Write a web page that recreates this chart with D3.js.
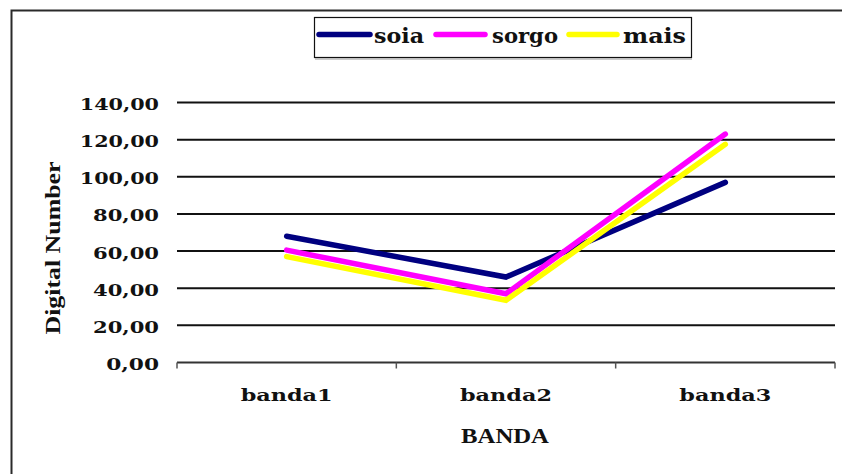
<!DOCTYPE html>
<html>
<head>
<meta charset="utf-8">
<script src="https://cdn.jsdelivr.net/npm/d3@7"></script>
<style>
  html, body { margin: 0; padding: 0; background: #fff; }
  svg { display: block; }
</style>
</head>
<body>
<svg id="chart" width="842" height="474"></svg>
<script>
// Band categories and the digital number of each crop per band
const categories = ["banda1", "banda2", "banda3"];
const soia  = [68, 46, 97];
const sorgo = [60.5, 37, 123];
const mais  = [57, 33.5, 117.5];
const seriesNames  = ["soia", "sorgo", "mais"];
const seriesColors = ["#000080", "#ff00ff", "#ffff00"];
const yTicks = [0, 20, 40, 60, 80, 100, 120, 140];

const series = [soia, sorgo, mais].map((values, i) => ({
  name: seriesNames[i], color: seriesColors[i], values
}));

const svg = d3.select("#chart");
const plot = { left: 177, right: 835, top: 102.5, bottom: 362.5 };

const x = d3.scalePoint().domain(categories).range([plot.left, plot.right]).padding(0.5);
const y = d3.scaleLinear().domain([0, 140]).range([plot.bottom, plot.top]);

const fmt = v => d3.format(".2f")(v).replace(".", ",");

// Outer frame (runs off the right and bottom edges)
svg.append("path")
  .attr("d", `M11.5,${480} V10.5 H${850}`)
  .attr("fill", "none").attr("stroke", "#2a2a2a").attr("stroke-width", 2);

// Horizontal gridlines
svg.append("g").selectAll("line")
  .data(yTicks.filter(t => t > 0))
  .join("line")
  .attr("x1", plot.left).attr("x2", plot.right)
  .attr("y1", d => y(d)).attr("y2", d => y(d))
  .attr("stroke", "#111").attr("stroke-width", 2);

// Y tick labels
svg.append("g").selectAll("text")
  .data(yTicks)
  .join("text")
  .attr("x", 159).attr("y", d => y(d) + 2)
  .attr("text-anchor", "end").attr("dominant-baseline", "central")
  .attr("font-family", "DejaVu Serif").attr("font-weight", "bold").attr("font-size", 16)
  .attr("textLength", d => fmt(d).length * 13.2)
  .attr("lengthAdjust", "spacingAndGlyphs")
  .attr("fill", "#111")
  .text(fmt);

// X axis with category ticks at the band boundaries
const step = x.step();
const xAxis = d3.axisBottom(x).tickSize(0).tickFormat("");
const gx = svg.append("g").attr("transform", `translate(0,${plot.bottom})`).call(xAxis);
gx.select(".domain").attr("stroke", "#333").attr("stroke-width", 2)
  .attr("d", `M${plot.left},0H${plot.right}`);
const bounds = [plot.left].concat(categories.map(c => x(c) + step / 2));
gx.selectAll(".bound").data(bounds).join("line").attr("class", "bound")
  .attr("x1", d => d).attr("x2", d => d).attr("y1", 0).attr("y2", 6)
  .attr("stroke", "#555").attr("stroke-width", 1.5);

// Category labels
svg.append("g").selectAll("text")
  .data(categories)
  .join("text")
  .attr("x", d => x(d)).attr("y", 401)
  .attr("text-anchor", "middle")
  .attr("font-family", "DejaVu Serif").attr("font-weight", "bold").attr("font-size", 17)
  .attr("textLength", 92).attr("lengthAdjust", "spacingAndGlyphs")
  .attr("fill", "#111")
  .text(d => d);

// Axis titles
svg.append("text")
  .attr("x", 505).attr("y", 443).attr("text-anchor", "middle")
  .attr("font-family", "Liberation Serif").attr("font-weight", "bold").attr("font-size", 21)
  .attr("textLength", 88).attr("lengthAdjust", "spacingAndGlyphs")
  .attr("fill", "#111").text("BANDA");

svg.append("text")
  .attr("transform", "translate(60,248) rotate(-90)")
  .attr("text-anchor", "middle")
  .attr("font-family", "Liberation Serif").attr("font-weight", "bold").attr("font-size", 21)
  .attr("textLength", 173).attr("lengthAdjust", "spacingAndGlyphs")
  .attr("fill", "#111").text("Digital Number");

// Series lines
const line = d3.line().x((d, i) => x(categories[i])).y(d => y(d));
svg.append("g").selectAll("path")
  .data(series)
  .join("path")
  .attr("d", d => line(d.values))
  .attr("fill", "none")
  .attr("stroke", d => d.color)
  .attr("stroke-width", 5.5)
  .attr("stroke-linecap", "round")
  .attr("stroke-linejoin", "miter");

// Legend
const legend = svg.append("g");
legend.append("rect")
  .attr("x", 314.5).attr("y", 17.5).attr("width", 377).attr("height", 40)
  .attr("fill", "#fff").attr("stroke", "#111").attr("stroke-width", 1.2);
legend.append("line")
  .attr("x1", 315).attr("x2", 692).attr("y1", 59).attr("y2", 59)
  .attr("stroke", "#999").attr("stroke-width", 1);
const legendItems = [
  { x1: 319, x2: 370, tx: 374, tw: 50 },
  { x1: 436, x2: 485, tx: 492, tw: 66 },
  { x1: 569, x2: 617, tx: 623, tw: 63 }
];
const li = legend.selectAll(".item").data(series).join("g").attr("class", "item");
li.append("line")
  .attr("x1", (d, i) => legendItems[i].x1).attr("x2", (d, i) => legendItems[i].x2)
  .attr("y1", 34.5).attr("y2", 34.5)
  .attr("stroke", d => d.color).attr("stroke-width", 5.5).attr("stroke-linecap", "round");
li.append("text")
  .attr("x", (d, i) => legendItems[i].tx).attr("y", 43)
  .attr("font-family", "DejaVu Serif").attr("font-weight", "bold").attr("font-size", 21)
  .attr("textLength", (d, i) => legendItems[i].tw).attr("lengthAdjust", "spacingAndGlyphs")
  .attr("fill", "#111")
  .text(d => d.name);
</script>
</body>
</html>
